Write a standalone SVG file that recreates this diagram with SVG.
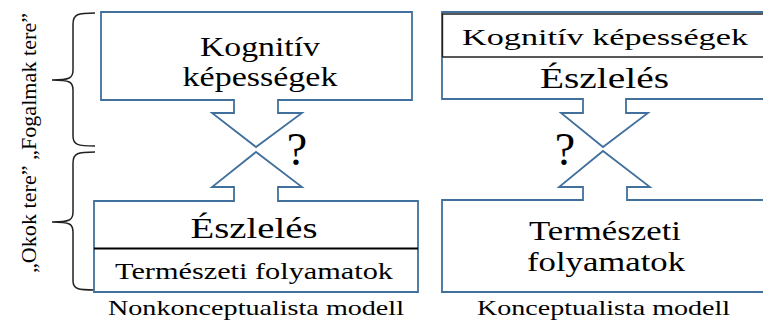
<svg xmlns="http://www.w3.org/2000/svg" width="763" height="322" viewBox="0 0 763 322">
<style>
.box{fill:#fff;stroke:#41709c;stroke-width:1.8;stroke-linejoin:miter}
.brace{fill:none;stroke:#222;stroke-width:1.5}
.sep{stroke:#000;stroke-width:2}
text{font-family:'Liberation Serif','Times New Roman',serif;fill:#000;text-anchor:middle}
</style>
<rect width="763" height="322" fill="#fff"/>
<g id="braces">
<path class="brace" d="M95,13 C78,13 73,14 73,24 L73,70 C73,78 70,80 52,80 C70,80 73,82 73,90 L73,136 C73,145 78,146 95,146"/>
<path class="brace" d="M95,152 C78,152 73,153 73,163 L73,212 C73,220 70,222 52,222 C70,222 73,224 73,232 L73,281 C73,289 78,290 95,290"/>
<text font-size="22" transform="translate(36,143) rotate(-90)" textLength="260" lengthAdjust="spacing">„Okok tere” „Fogalmak tere”</text>
</g>
<g id="left-top">
<path class="box" d="M101,12 H412 V100 H278 V113 H302 L256,147 L212,113 H234 V100 H101 Z"/>
<text x="260" y="56" font-size="27" textLength="120" lengthAdjust="spacingAndGlyphs">Kognitív</text>
<text x="260" y="86" font-size="27" textLength="155" lengthAdjust="spacingAndGlyphs">képességek</text>
</g>
<g id="left-bottom">
<path class="box" d="M94,292 V201 H234 V187 H212 L256,152 L302,187 H278 V201 H418 V292 Z"/>
<line class="sep" x1="94" y1="248.5" x2="418" y2="248.5"/>
<text x="254" y="238" font-size="29" textLength="127" lengthAdjust="spacingAndGlyphs">Észlelés</text>
<text x="254" y="279" font-size="23" textLength="278" lengthAdjust="spacingAndGlyphs">Természeti folyamatok</text>
</g>
<g id="right-top">
<path class="box" d="M442,12 H765 V99 H626 V113 H648 L603,147 L561,113 H583 V99 H442 Z"/>
<path d="M442.5,57 V14 H765 M442.5,57 H765" fill="none" stroke="#222" stroke-width="1.4"/>
<text x="605" y="45" font-size="24" textLength="286" lengthAdjust="spacingAndGlyphs">Kognitív képességek</text>
<text x="604.5" y="88" font-size="29" textLength="129" lengthAdjust="spacingAndGlyphs">Észlelés</text>
</g>
<g id="right-bottom">
<path class="box" d="M442,292 V200 H583 V187 H559 L603,151 L650,187 H627 V200 H765 V292 Z"/>
<text x="605" y="240" font-size="28" textLength="152" lengthAdjust="spacingAndGlyphs">Természeti</text>
<text x="606" y="271" font-size="28" textLength="158" lengthAdjust="spacingAndGlyphs">folyamatok</text>
</g>
<g id="marks">
<text x="297" y="165" font-size="46">?</text>
<text x="565" y="165" font-size="46">?</text>
</g>
<g id="captions">
<text x="256" y="315" font-size="21" textLength="296" lengthAdjust="spacingAndGlyphs">Nonkonceptualista modell</text>
<text x="603.5" y="315" font-size="21" textLength="253" lengthAdjust="spacingAndGlyphs">Konceptualista modell</text>
</g>
</svg>
